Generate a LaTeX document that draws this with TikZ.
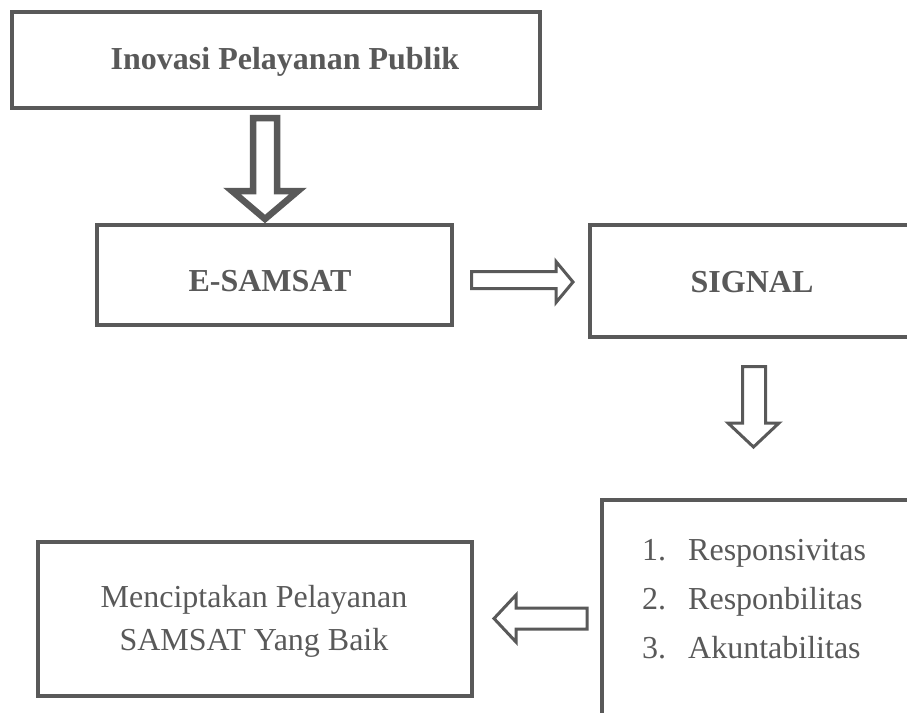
\documentclass[tikz,border=0pt]{standalone}
\usepackage{fontspec}
\setmainfont{Liberation Serif}
\definecolor{ink}{HTML}{595959}
\begin{document}
\begin{tikzpicture}[x=1pt,y=-1pt,
  box/.style={draw=ink,line width=4pt,rectangle,inner sep=0pt},
  lbl/.style={text=ink,font=\fontsize{32}{38}\selectfont,anchor=base,inner sep=0pt},
  blbl/.style={lbl,font=\fontsize{32}{38}\selectfont\bfseries},
  thinarrow/.style={draw=ink,line width=3pt,line join=miter,fill=white},
  thickarrow/.style={draw=ink,line width=6.5pt,line join=miter,fill=white}]
\useasboundingbox (0,0) rectangle (907,712);
\clip (0,0) rectangle (907,712);
\fill[white] (0,0) rectangle (907,712);
% boxes
\node[box,minimum width=528pt,minimum height=96pt] (inov) at (276,60) {};
\node[box,minimum width=355pt,minimum height=100pt] (esam) at (274.5,275) {};
\node[box,minimum width=330pt,minimum height=112pt] (sig) at (755,281) {};
\node[box,minimum width=330pt,minimum height=240pt] (list) at (767,620) {};
\node[box,minimum width=434pt,minimum height=154pt] (cipt) at (255,619) {};
% texts
\node[blbl] (tinov) at (285,69) {Inovasi Pelayanan Publik};
\node[blbl] (tesam) at (270,291) {E-SAMSAT};
\node[blbl] (tsig) at (752,292) {SIGNAL};
\node[lbl,anchor=base west] (n1) at (642,560) {1.};
\node[lbl,anchor=base west] (i1) at (688,560) {Responsivitas};
\node[lbl,anchor=base west] (n2) at (642,609) {2.};
\node[lbl,anchor=base west] (i2) at (688,609) {Responbilitas};
\node[lbl,anchor=base west] (n3) at (642,658) {3.};
\node[lbl,anchor=base west] (i3) at (688,658) {Akuntabilitas};
\node[lbl] (tc1) at (254,607) {Menciptakan Pelayanan};
\node[lbl] (tc2) at (254,650) {SAMSAT Yang Baik};
% block arrows
\draw[thickarrow] (253,118) -- (277,118) -- (277,191) -- (298,191) -- (265,219) -- (232,191) -- (253,191) -- cycle;
\draw[thinarrow] (471.5,271.5) -- (556,271.5) -- (556,261.5) -- (573,282) -- (556,302.5) -- (556,288.5) -- (471.5,288.5) -- cycle;
\draw[thinarrow] (742.5,366.5) -- (765.5,366.5) -- (765.5,423) -- (779,423) -- (753.5,447) -- (728,423) -- (742.5,423) -- cycle;
\draw[thinarrow] (587,608) -- (516,608) -- (516,595) -- (494,618.5) -- (516,642) -- (516,629) -- (587,629) -- cycle;
\end{tikzpicture}
\end{document}
